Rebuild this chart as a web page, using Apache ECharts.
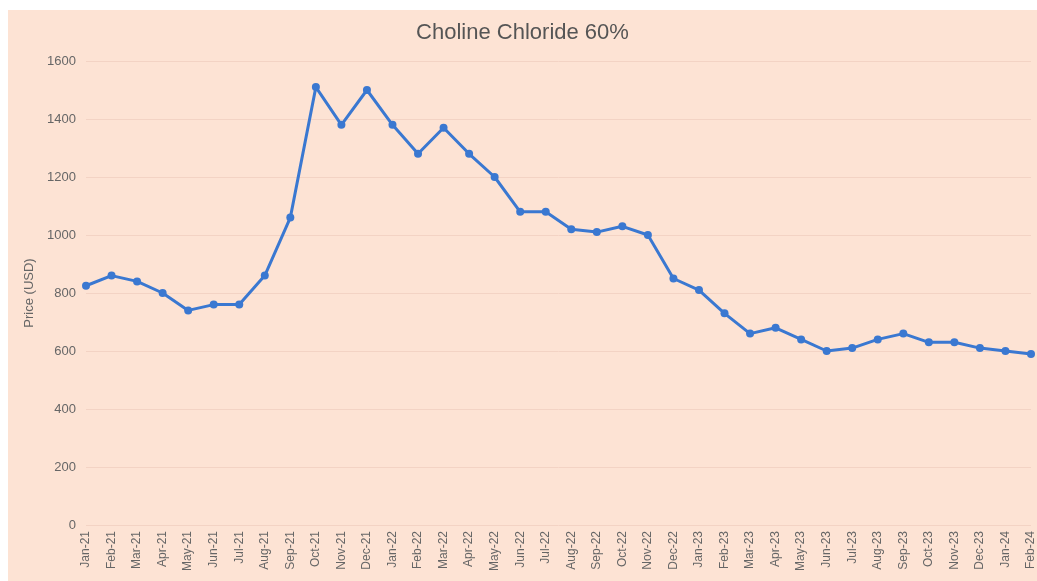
<!DOCTYPE html>
<html>
<head>
<meta charset="utf-8">
<script src="https://cdn.jsdelivr.net/npm/echarts@6/dist/echarts.min.js"></script>
<style>
  html, body { margin: 0; padding: 0; background: #ffffff; overflow: hidden; }
  #chart { position: absolute; left: 8px; top: 10px; width: 1029px; height: 571px; background: #fde3d4; }
</style>
</head>
<body>
<div id="chart"></div>
<script>
// months Jan-21 .. Feb-24
var months = ['Jan-21','Feb-21','Mar-21','Apr-21','May-21','Jun-21','Jul-21','Aug-21','Sep-21','Oct-21','Nov-21','Dec-21',
  'Jan-22','Feb-22','Mar-22','Apr-22','May-22','Jun-22','Jul-22','Aug-22','Sep-22','Oct-22','Nov-22','Dec-22',
  'Jan-23','Feb-23','Mar-23','Apr-23','May-23','Jun-23','Jul-23','Aug-23','Sep-23','Oct-23','Nov-23','Dec-23',
  'Jan-24','Feb-24'];
var prices = [825, 860, 840, 800, 740, 760, 760, 860, 1060, 1510, 1380, 1500,
  1380, 1280, 1370, 1280, 1200, 1080, 1080, 1020, 1010, 1030, 1000, 850,
  810, 730, 660, 680, 640, 600, 610, 640, 660, 630, 630, 610,
  600, 590];

var chart = echarts.init(document.getElementById('chart'));
var option = {
  backgroundColor: 'transparent',
  title: {
    text: 'Choline Chloride 60%',
    left: 'center',
    top: 7,
    textStyle: { fontFamily: 'Liberation Sans', fontSize: 22, fontWeight: 'normal', color: '#555555' }
  },
  grid: { left: 78, right: 2, top: 51, bottom: 56 },
  xAxis: {
    type: 'category',
    data: months,
    boundaryGap: false,
    axisLine: { show: false },
    axisTick: { show: false },
    axisLabel: {
      rotate: 90,
      interval: 0,
      margin: 6,
      color: '#666666',
      fontFamily: 'Liberation Sans',
      fontSize: 12
    }
  },
  yAxis: {
    type: 'value',
    min: 0,
    max: 1600,
    interval: 200,
    name: 'Price (USD)',
    nameLocation: 'middle',
    nameGap: 42,
    nameTextStyle: { color: '#666666', fontFamily: 'Liberation Sans', fontSize: 13 },
    axisLine: { show: false },
    axisTick: { show: false },
    axisLabel: { color: '#666666', fontFamily: 'Liberation Sans', fontSize: 13, margin: 10,
      formatter: function (v) { return String(v); } },
    splitLine: { lineStyle: { color: '#f3d3c4', width: 1 } }
  },
  series: [{
    type: 'line',
    data: prices,
    symbol: 'circle',
    symbolSize: 8,
    lineStyle: { color: '#3a78d1', width: 3 },
    itemStyle: { color: '#3a78d1' }
  }]
};
chart.setOption(option);
</script>
</body>
</html>
